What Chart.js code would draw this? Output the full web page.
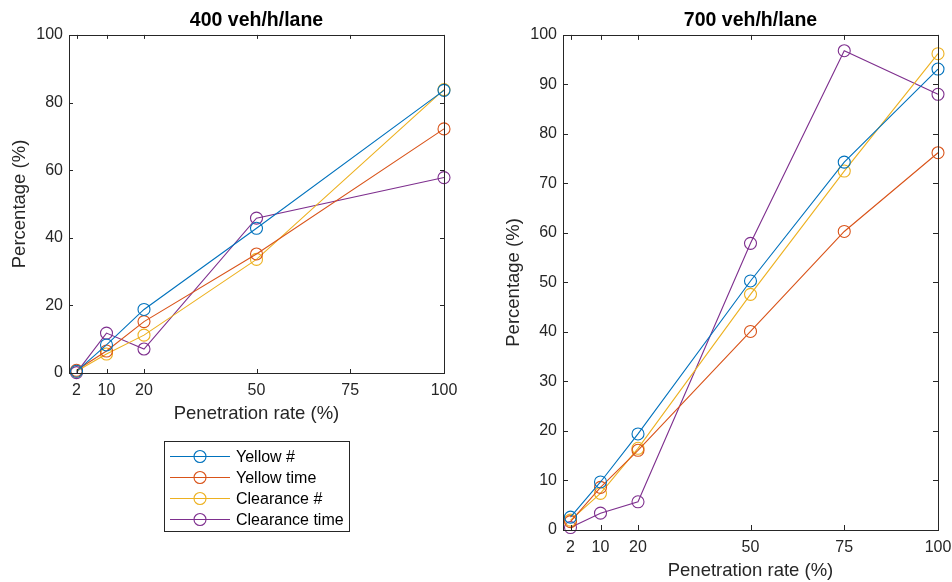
<!DOCTYPE html>
<html>
<head>
<meta charset="utf-8">
<script src="https://cdn.jsdelivr.net/npm/chart.js@4/dist/chart.umd.min.js"></script>
<style>
  body { margin: 0; background: #fff; }
  .wrap { position: absolute; top: 0; width: 476px; height: 582px; }
  #left { left: 0; }
  #right { left: 476px; }
</style>
</head>
<body>
<div class="wrap" id="left"><canvas id="chart400"></canvas></div>
<div class="wrap" id="right"><canvas id="chart700"></canvas></div>
<script>
// x values and tick labels
const rates400 = [2, 10, 20, 50, 100];
const rates700 = [2, 10, 20, 50, 75, 100];
const xTicks = [2, 10, 20, 50, 75, 100];

const seriesNames = ["Yellow #", "Yellow time", "Clearance #", "Clearance time"];
const seriesColors = ["#0072BD", "#D95319", "#EDB120", "#7E2F8E"];

// 400 veh/h/lane
const yellowCount400 = [0.5, 8.3, 18.8, 42.8, 83.6];
const yellowTime400 = [0.8, 6.5, 15.2, 35.2, 72.2];
const clearCount400 = [0.5, 5.6, 11.2, 33.6, 83.8];
const clearTime400 = [0.1, 11.8, 7.1, 45.8, 57.8];

// 700 veh/h/lane
const yellowCount700 = [2.6, 9.7, 19.4, 50.3, 74.3, 93.1];
const yellowTime700 = [1.7, 8.6, 16.1, 40.1, 60.3, 76.2];
const clearCount700 = [2.0, 7.4, 16.5, 47.6, 72.5, 96.2];
const clearTime700 = [0.5, 3.4, 5.7, 57.9, 96.8, 88.0];

const axisColor = "#262626";
const fontFamily = "'Liberation Sans', Arial, sans-serif";

function makeDatasets(xs, lists) {
  return lists.map((vals, i) => ({
    label: seriesNames[i],
    data: vals.map((v, j) => ({ x: xs[j], y: v })),
    borderColor: seriesColors[i],
    backgroundColor: "rgba(0,0,0,0)",
    borderWidth: 1.1,
    pointStyle: "circle",
    pointRadius: 6,
    pointHoverRadius: 6,
    pointBorderWidth: 1.1,
    pointBackgroundColor: "rgba(0,0,0,0)",
    pointBorderColor: seriesColors[i],
    tension: 0,
    clip: false,
  }));
}

// box around the plot area with inward ticks on all four sides
const boxTicks = {
  id: "boxTicks",
  afterDatasetsDraw(chart, args, opts) {
    const ctx = chart.ctx;
    const a = chart.chartArea;
    const len = opts.len || 4;
    ctx.save();
    ctx.strokeStyle = axisColor;
    ctx.lineWidth = 1;
    ctx.strokeRect(Math.round(a.left) + 0.5, Math.round(a.top) + 0.5,
      Math.round(a.right - a.left), Math.round(a.bottom - a.top));
    ctx.beginPath();
    chart.scales.x.ticks.forEach((t) => {
      const px = Math.round(chart.scales.x.getPixelForValue(t.value)) + 0.5;
      ctx.moveTo(px, a.bottom); ctx.lineTo(px, a.bottom - len);
      ctx.moveTo(px, a.top); ctx.lineTo(px, a.top + len);
    });
    chart.scales.y.ticks.forEach((t) => {
      const py = Math.round(chart.scales.y.getPixelForValue(t.value)) + 0.5;
      ctx.moveTo(a.left, py); ctx.lineTo(a.left + len, py);
      ctx.moveTo(a.right, py); ctx.lineTo(a.right - len, py);
    });
    ctx.stroke();
    ctx.restore();
  },
};

// legend box under the left plot
const boxLegend = {
  id: "boxLegend",
  afterDraw(chart, args, opts) {
    if (!opts.show) return;
    const ctx = chart.ctx;
    ctx.save();
    ctx.fillStyle = "#fff";
    ctx.fillRect(164.5, 441.5, 185, 90);
    ctx.strokeStyle = axisColor;
    ctx.lineWidth = 1;
    ctx.strokeRect(164.5, 441.5, 185, 90);
    ctx.font = "16px " + fontFamily;
    ctx.textBaseline = "middle";
    chart.data.datasets.forEach((ds, i) => {
      const y = 456.5 + i * 21;
      ctx.strokeStyle = ds.borderColor;
      ctx.lineWidth = 1.1;
      ctx.beginPath();
      ctx.moveTo(170, y); ctx.lineTo(230, y);
      ctx.stroke();
      ctx.beginPath();
      ctx.arc(200, y, 6, 0, Math.PI * 2);
      ctx.stroke();
      ctx.fillStyle = "#000";
      ctx.fillText(ds.label, 236, y + 1);
    });
    ctx.restore();
  },
};

function makeChart(id, title, xs, lists, yStep, pad, tickLen, legend) {
  return new Chart(document.getElementById(id), {
    type: "line",
    data: { datasets: makeDatasets(xs, lists) },
    plugins: [boxTicks, boxLegend],
    options: {
      responsive: true,
      maintainAspectRatio: false,
      animation: false,
      events: [],
      layout: { padding: pad },
      scales: {
        x: {
          type: "linear",
          min: 0,
          max: 100,
          afterBuildTicks: (scale) => {
            scale.ticks = xTicks.map((v) => ({ value: v }));
          },
          afterFit: (scale) => {
            scale.height = 52;
            scale.paddingLeft = 0;
            scale.paddingRight = 0;
          },
          grid: { display: false, drawTicks: false, tickLength: 0 },
          border: { display: false },
          ticks: { color: axisColor, padding: 8, maxRotation: 0, autoSkip: false, font: { size: 16, family: fontFamily } },
          title: { display: true, text: "Penetration rate (%)", color: axisColor, padding: { top: 0, bottom: 0 }, font: { size: 18.5, family: fontFamily } },
        },
        y: {
          min: 0,
          max: 100,
          afterFit: (scale) => {
            scale.width = 69;
            scale.paddingTop = 0;
            scale.paddingBottom = 0;
          },
          grid: { display: false, drawTicks: false, tickLength: 0 },
          border: { display: false },
          ticks: { stepSize: yStep, color: axisColor, padding: 6, font: { size: 16, family: fontFamily } },
          title: { display: true, text: "Percentage (%)", color: axisColor, padding: { top: 9, bottom: 0 }, font: { size: 18.5, family: fontFamily } },
        },
      },
      plugins: {
        legend: { display: false },
        tooltip: { enabled: false },
        title: {
          display: true,
          text: title,
          fullSize: false,
          color: "#000",
          padding: { top: 8.5, bottom: 3 },
          font: { size: 19.5, weight: "bold", family: fontFamily },
        },
        boxTicks: { len: tickLen },
        boxLegend: { show: legend },
      },
    },
  });
}

makeChart("chart400", "400 veh/h/lane", rates400,
  [yellowCount400, yellowTime400, clearCount400, clearTime400],
  20, { left: 0, right: 32, top: 0, bottom: 157 }, 4, true);

makeChart("chart700", "700 veh/h/lane", rates700,
  [yellowCount700, yellowTime700, clearCount700, clearTime700],
  10, { left: 18, right: 14, top: 0, bottom: 0 }, 5, false);
</script>
</body>
</html>
